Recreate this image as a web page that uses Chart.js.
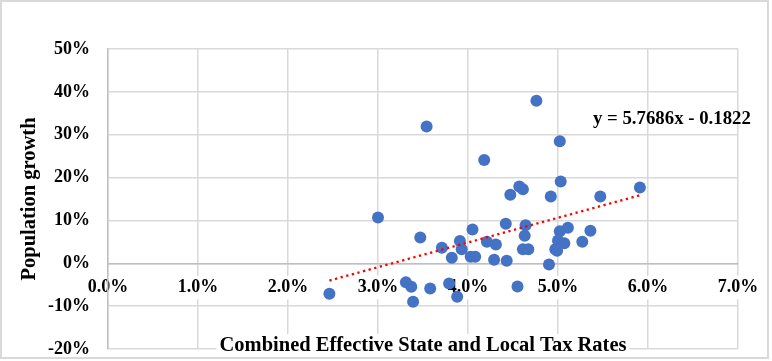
<!DOCTYPE html>
<html><head><meta charset="utf-8">
<script src="https://cdn.jsdelivr.net/npm/chart.js@4"></script>
<style>html,body{margin:0;padding:0;background:#fff}canvas{display:block}</style>
</head><body>
<canvas id="c" width="772" height="361"></canvas>
<script>
// ---- data (percent units) ----
const taxRate = [2.46, 3.00, 3.31, 3.37, 3.39, 3.47, 3.58, 3.71, 3.79, 3.82, 3.88, 3.91, 3.93, 4.05, 4.03, 4.08,
  4.21, 4.31, 4.29, 4.43, 4.42, 4.55, 4.47, 4.57, 4.61, 4.64, 4.63, 4.61, 4.67, 4.92, 4.90, 5.02, 5.03,
  3.54, 4.18, 4.76, 5.47, 5.91, 5.11, 5.02, 5.36, 5.00, 5.07, 5.27, 4.97, 4.99];
const popGrowth = [-7.1, 10.7, -4.4, -5.5, -9.0, 6.0, -5.9, 3.6, -4.7, 1.3, -7.8, 5.2, 3.3, 7.9, 1.5, 1.5,
  5.0, 4.4, 0.8, 0.6, 9.2, -5.4, 16.0, 17.9, 17.3, 8.9, 6.4, 3.3, 3.3, 15.6, -0.3, 28.5, 19.1,
  31.9, 24.1, 37.9, 15.6, 17.7, 8.3, 7.5, 7.6, 5.3, 4.7, 5.0, 3.3, 2.9];
const xTickLabels = ['0.0%', '1.0%', '2.0%', '3.0%', '4.0%', '5.0%', '6.0%', '7.0%'];
const yTickLabels = ['-20%', '-10%', '0%', '10%', '20%', '30%', '40%', '50%'];
const trendSlope = 5.7686;
const trendIntercept = -0.1822;
const trendXRange = [2.46, 5.91];
const equationText = 'y = 5.7686x - 0.1822';
const xTitleText = 'Combined Effective State and Local Tax Rates';
const yTitleText = 'Population growth';

const FONT = "'Liberation Serif', 'Times New Roman', serif";
const points = taxRate.map((x, i) => ({x: x, y: popGrowth[i]}));
const trendPts = trendXRange.map(x => ({x: x, y: (trendSlope * x / 100 + trendIntercept) * 100}));

const framePlugin = {
  id: 'frame',
  afterDraw(chart) {
    const ctx = chart.ctx;
    ctx.save();
    ctx.strokeStyle = '#d9d9d9';
    ctx.lineWidth = 2;
    ctx.strokeRect(1, 1, 767, 357);
    ctx.restore();
  }
};
const xTitlePlugin = {
  id: 'xTitle',
  beforeDatasetsDraw(chart) {
    const ctx = chart.ctx;
    const a = chart.chartArea;
    ctx.save();
    ctx.font = 'bold 20.5px ' + FONT;
    const w = ctx.measureText(xTitleText).width;
    const cx = (a.left + a.right) / 2;
    ctx.fillStyle = '#fff';
    ctx.fillRect(cx - w / 2 - 3, 334, w + 6, 22);
    ctx.fillStyle = '#000';
    ctx.textAlign = 'center';
    ctx.textBaseline = 'alphabetic';
    ctx.fillText(xTitleText, cx, 351);
    ctx.restore();
  }
};
const eqPlugin = {
  id: 'eq',
  afterDatasetsDraw(chart) {
    const ctx = chart.ctx;
    ctx.save();
    ctx.font = 'bold 18.8px ' + FONT;
    ctx.fillStyle = '#000';
    ctx.textAlign = 'left';
    ctx.textBaseline = 'alphabetic';
    ctx.fillText(equationText, 593, 124);
    ctx.restore();
  }
};

new Chart(document.getElementById('c'), {
  type: 'scatter',
  data: {
    datasets: [
      {
        type: 'line', data: trendPts, order: 0,
        borderColor: '#ff0000', borderWidth: 2.3, borderDash: [2.3, 3.5],
        pointRadius: 0, fill: false, tension: 0
      },
      {
        data: points, order: 1,
        backgroundColor: '#4472c4', borderColor: '#4472c4', borderWidth: 0,
        pointRadius: 6, pointHoverRadius: 6
      }
    ]
  },
  options: {
    responsive: false,
    animation: false,
    devicePixelRatio: 1,
    layout: {padding: {left: 0, top: 49, right: 34, bottom: 12}},
    plugins: {legend: {display: false}, tooltip: {enabled: false}},
    scales: {
      x: {
        type: 'linear', min: 0, max: 7, position: {y: 0},
        grid: {color: '#d9d9d9', lineWidth: 1.5, drawTicks: true, tickLength: 13.5, tickColor: 'rgba(0,0,0,0)'},
        border: {color: '#bfbfbf', width: 1.5},
        ticks: {
          stepSize: 1, padding: 0, maxRotation: 0, autoSkip: false,
          color: '#000', font: {family: FONT, size: 18, weight: 'bold'},
          callback: (v, i) => xTickLabels[i],
          showLabelBackdrop: true, backdropColor: '#fff', backdropPadding: {top: 1, bottom: 1, left: 2, right: 2}
        }
      },
      y: {
        type: 'linear', min: -20, max: 50, position: 'left',
        afterFit: s => { s.width = 108; },
        grid: {color: '#d9d9d9', lineWidth: 1.5, drawTicks: true, tickLength: 18, tickColor: 'rgba(0,0,0,0)'},
        border: {color: '#bfbfbf', width: 1.5},
        ticks: {
          stepSize: 10, padding: 0,
          color: '#000', font: {family: FONT, size: 18, weight: 'bold'},
          callback: (v, i) => yTickLabels[i]
        },
        title: {
          display: true, text: yTitleText, color: '#000',
          font: {family: FONT, size: 20.5, weight: 'bold'},
          padding: {top: 17.7, bottom: 0}
        }
      }
    }
  },
  plugins: [framePlugin, xTitlePlugin, eqPlugin]
});
</script>
</body></html>
